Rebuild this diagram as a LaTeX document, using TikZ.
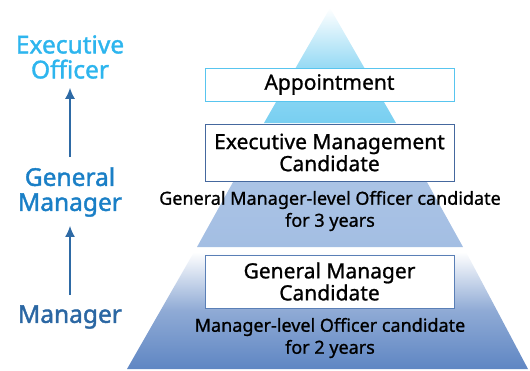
\documentclass[tikz,border=0pt]{standalone}
\usepackage{fontspec}
\usetikzlibrary{arrows.meta}
\setmainfont{Noto Sans}
\newfontfamily\semib{Noto Sans}[FakeBold=1.6]
\newfontfamily\medf{Noto Sans}[FakeBold=1.0]
\definecolor{cyanA}{HTML}{78CFF1}
\definecolor{blueB}{HTML}{A3BEE3}
\definecolor{blueC}{HTML}{5F86C3}
\definecolor{lblA}{HTML}{2DB5EE}
\definecolor{lblB}{HTML}{1A7FC6}
\definecolor{lblC}{HTML}{2B67A3}
\definecolor{arr}{HTML}{2E6AA5}
\definecolor{bdA}{HTML}{58C5EF}
\definecolor{bdB}{HTML}{45689E}
\definecolor{bdC}{HTML}{5A7FB6}
\begin{document}
\begin{tikzpicture}[x=1pt,y=-1pt,
  lvl/.style={font=\fontsize{24.5}{25}\semib, align=center, inner sep=0pt},
  boxa/.style={draw=#1, line width=0.9pt, fill=white, minimum width=249pt, inner sep=0pt, font=\fontsize{21}{23}\medf, align=center},
  sub/.style={font=\fontsize{18}{22}\medf, align=center},
  up/.style={draw=arr, line width=1.4pt, -{Latex[length=11pt,width=10pt]}}]
\useasboundingbox (0,0) rectangle (530,370);
% pyramid sections
\shade[top color=white, bottom color=cyanA, middle color=cyanA!75] (330,8) -- (396,123) -- (264,123) -- cycle;
\shade[top color=blueB!85, bottom color=blueB] (263,128) -- (397,128) -- (463,247) -- (197,247) -- cycle;
\shade[top color=white, bottom color=blueC, middle color=blueC!70] (194,252) -- (466,252) -- (528,369) -- (127,369) -- cycle;
% boxes
\node[boxa=bdA, minimum height=33pt] (app) at (329.5,84.5) {Appointment};
\node[boxa=bdB, minimum height=57pt] (emc) at (329.5,152.5) {Executive Management\\[-1pt]Candidate};
\node[boxa=bdC, minimum height=53pt] (gmc) at (329.5,281.5) {General Manager\\[-1pt]Candidate};
\node[sub] (s1) at (330,211) {General Manager-level Officer candidate\\for 3 years};
\node[sub] (s2) at (330,338) {Manager-level Officer candidate\\for 2 years};
% left labels
\node[lvl, text=lblA] (eo) at (70,57) {Executive\\Officer};
\node[lvl, text=lblB] (gm) at (70,192) {General\\Manager};
\node[lvl, text=lblC] (mg) at (70,317) {Manager};
\draw[up, shorten <=10pt, shorten >=9pt] (gm.north) -- (eo.south);
\draw[up, shorten <=10pt, shorten >=9pt] (mg.north) -- (gm.south);
\end{tikzpicture}
\end{document}
